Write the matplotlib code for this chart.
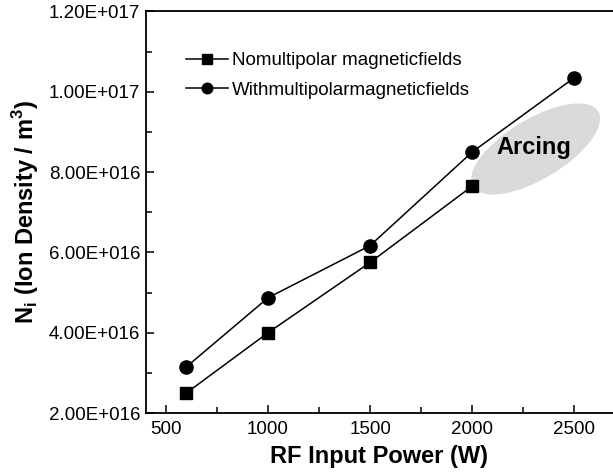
import matplotlib
matplotlib.use("Agg")
import matplotlib.pyplot as plt
from matplotlib.patches import Ellipse
from matplotlib.ticker import MultipleLocator, FuncFormatter
from matplotlib.transforms import Affine2D, ScaledTranslation

plt.rcParams['font.family'] = ['Liberation Sans', 'DejaVu Sans']
plt.rcParams['mathtext.fontset'] = 'custom'
plt.rcParams['mathtext.rm'] = 'Liberation Sans'
plt.rcParams['mathtext.bf'] = 'Liberation Sans:bold'

# Data
power = [600, 1000, 1500, 2000]
no_multipolar = [2.5e16, 4.0e16, 5.75e16, 7.65e16]
power_with = [600, 1000, 1500, 2000, 2500]
with_multipolar = [3.15e16, 4.87e16, 6.17e16, 8.5e16, 1.035e17]
series_labels = ["Nomultipolar magneticfields", "Withmultipolarmagneticfields"]
arcing_center = (2311, 8.575e16)


def sci_fmt(v, p):
    exp = int(f"{v:e}".split('e')[1])
    return "%.2fE+%03d" % (v / 10 ** exp, exp)


W, H = 613, 473
fig = plt.figure(figsize=(W / 100, H / 100), dpi=100)
ax = fig.add_axes([146 / W, 1 - 413 / H, 1 - 146 / W, (413 - 11.5) / H])

ax.plot(power, no_multipolar, '-s', color='black', lw=1.1, ms=8.5,
        label=series_labels[0], zorder=3)
ax.plot(power_with, with_multipolar, '-o', color='black', lw=1.1, ms=9.5,
        label=series_labels[1], zorder=3)

ax.set_xlim(402, 2690)
ax.set_ylim(2e16, 1.2e17)

# Arcing ellipse (sized in display pixels)
trans = Affine2D() + ScaledTranslation(arcing_center[0], arcing_center[1], ax.transData)
ell = Ellipse((0, 0), 146, 60, angle=31, transform=trans, facecolor='#dadada',
              edgecolor='none', zorder=1)
ax.add_patch(ell)
ax.text(2302, 8.62e16, "Arcing", fontsize=17, fontweight='bold', ha='center',
        va='center', zorder=4)

ax.xaxis.set_major_locator(MultipleLocator(500))
ax.xaxis.set_minor_locator(MultipleLocator(250))
ax.yaxis.set_major_locator(MultipleLocator(2e16))
ax.yaxis.set_minor_locator(MultipleLocator(1e16))
ax.yaxis.set_major_formatter(FuncFormatter(sci_fmt))

ax.tick_params(which='both', direction='in', labelsize=13.5, width=1.1)
ax.tick_params(which='major', length=6, pad=6)
ax.tick_params(which='minor', length=4)
ax.tick_params(axis='y', which='major', pad=4)
ax.spines['right'].set_visible(False)
for s in ['left', 'bottom', 'top']:
    ax.spines[s].set_linewidth(1.3)

ax.set_xlabel("RF Input Power (W)", fontsize=17, fontweight='bold', labelpad=5)
ax.set_ylabel(r"N$_\mathbf{i}$ (Ion Density / m$^\mathbf{3}$)", fontsize=17,
              fontweight='bold', labelpad=6)

leg = ax.legend(loc='upper left', bbox_to_anchor=(186 / W, 1 - 52 / H),
                bbox_transform=fig.transFigure, frameon=False, fontsize=13.5,
                handlelength=2.25, handletextpad=0.2, labelspacing=0.68,
                borderpad=0, borderaxespad=0, markerscale=0.8)

fig.savefig("out.png", dpi=100)
